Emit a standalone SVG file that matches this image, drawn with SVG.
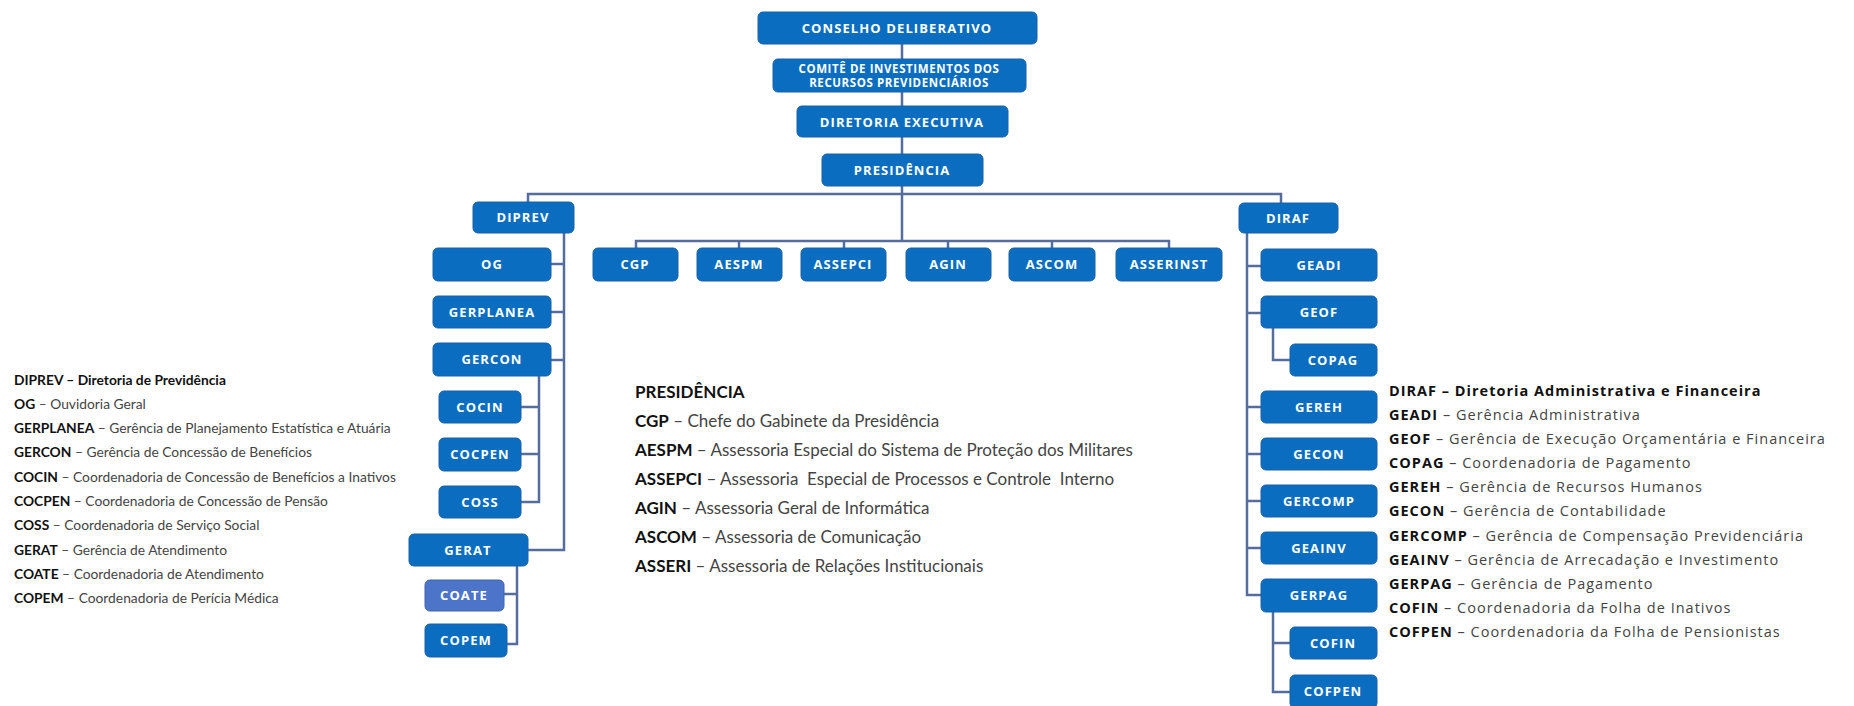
<svg xmlns="http://www.w3.org/2000/svg" width="1854" height="706" viewBox="0 0 1854 706">
<style>
.n{fill:#0B6DC0;stroke:#1A62A8;stroke-width:1}
.n2{fill:#4C74C8;stroke:#3F63AE;stroke-width:1}
.t{font-family:"Open Sans","DejaVu Sans",sans-serif;font-weight:bold;font-size:13px;fill:#ffffff;text-anchor:middle;letter-spacing:1.1px}
.ts{font-size:11.5px;letter-spacing:0.6px}
.c{fill:none;stroke:#566C9C;stroke-width:2.5}
.l{font-family:Lato,"Open Sans",sans-serif;font-size:13.8px;fill:#444444}
.m{font-family:Lato,"Open Sans",sans-serif;font-size:17px;fill:#444444;white-space:pre}
.r{font-family:"Open Sans",Lato,sans-serif;font-size:14.5px;letter-spacing:1px;fill:#444444}
.b{font-weight:bold;fill:#111111}
</style>
<rect width="1854" height="706" fill="#ffffff"/>
<g id="connectors">
<path class="c" d="M902,44V59M902,92V106M902,137V154M902,186V241"/>
<path class="c" d="M528,202V194H1281V203"/>
<path class="c" d="M636,248V241H1169V248M739,241V248M844,241V248M948,241V248M1052,241V248"/>
<path class="c" d="M564,233V550H528M551,264H564M551,312H564M551,360H564"/>
<path class="c" d="M539,376V502H521M521,407H539M521,454H539"/>
<path class="c" d="M517,566V644H507M504,594H517"/>
<path class="c" d="M1247,233V595H1261M1247,266H1261M1247,313H1261M1247,407H1261M1247,454H1261M1247,501H1261M1247,548H1261"/>
<path class="c" d="M1273,328V360H1290"/>
<path class="c" d="M1273,612V692H1290M1273,643H1290"/>
</g>
<g id="conselho"><rect class="n" x="758" y="12" width="279" height="32" rx="5"/><text class="t" x="897" y="33">CONSELHO DELIBERATIVO</text></g>
<g id="comite"><rect class="n" x="773" y="59" width="253" height="33" rx="5"/><text class="t ts" x="899" y="73">COMITÊ DE INVESTIMENTOS DOS</text><text class="t ts" x="899" y="87">RECURSOS PREVIDENCIÁRIOS</text></g>
<g id="diretoria"><rect class="n" x="797" y="106" width="211" height="31" rx="5"/><text class="t" x="902" y="127">DIRETORIA EXECUTIVA</text></g>
<g id="presidencia"><rect class="n" x="822" y="154" width="161" height="32" rx="5"/><text class="t" x="902" y="175">PRESIDÊNCIA</text></g>
<g id="diprev"><rect class="n" x="473" y="202" width="101" height="31" rx="5"/><text class="t" x="523" y="222">DIPREV</text></g>
<g id="diraf"><rect class="n" x="1239" y="203" width="99" height="30" rx="5"/><text class="t" x="1288" y="223">DIRAF</text></g>
<g id="cgp"><rect class="n" x="593" y="248" width="85" height="33" rx="5"/><text class="t" x="635" y="269">CGP</text></g>
<g id="aespm"><rect class="n" x="697" y="248" width="85" height="33" rx="5"/><text class="t" x="739" y="269">AESPM</text></g>
<g id="assepci"><rect class="n" x="801" y="248" width="85" height="33" rx="5"/><text class="t" x="843" y="269">ASSEPCI</text></g>
<g id="agin"><rect class="n" x="906" y="248" width="85" height="33" rx="5"/><text class="t" x="948" y="269">AGIN</text></g>
<g id="ascom"><rect class="n" x="1009" y="248" width="86" height="33" rx="5"/><text class="t" x="1052" y="269">ASCOM</text></g>
<g id="asserinst"><rect class="n" x="1116" y="248" width="106" height="33" rx="5"/><text class="t" x="1169" y="269">ASSERINST</text></g>
<g id="og"><rect class="n" x="433" y="248" width="118" height="33" rx="5"/><text class="t" x="492" y="269">OG</text></g>
<g id="gerplanea"><rect class="n" x="433" y="296" width="118" height="32" rx="5"/><text class="t" x="492" y="317">GERPLANEA</text></g>
<g id="gercon"><rect class="n" x="433" y="343" width="118" height="33" rx="5"/><text class="t" x="492" y="364">GERCON</text></g>
<g id="cocin"><rect class="n" x="439" y="391" width="82" height="32" rx="5"/><text class="t" x="480" y="412">COCIN</text></g>
<g id="cocpen"><rect class="n" x="439" y="438" width="82" height="33" rx="5"/><text class="t" x="480" y="459">COCPEN</text></g>
<g id="coss"><rect class="n" x="439" y="486" width="82" height="32" rx="5"/><text class="t" x="480" y="507">COSS</text></g>
<g id="gerat"><rect class="n" x="409" y="534" width="119" height="32" rx="5"/><text class="t" x="468" y="555">GERAT</text></g>
<g id="coate"><rect class="n2" x="425" y="580" width="79" height="31" rx="5"/><text class="t" x="464" y="600">COATE</text></g>
<g id="copem"><rect class="n" x="425" y="624" width="82" height="33" rx="5"/><text class="t" x="466" y="645">COPEM</text></g>
<g id="geadi"><rect class="n" x="1261" y="249" width="116" height="32" rx="5"/><text class="t" x="1319" y="270">GEADI</text></g>
<g id="geof"><rect class="n" x="1261" y="296" width="116" height="32" rx="5"/><text class="t" x="1319" y="317">GEOF</text></g>
<g id="copag"><rect class="n" x="1290" y="344" width="87" height="32" rx="5"/><text class="t" x="1333" y="365">COPAG</text></g>
<g id="gereh"><rect class="n" x="1261" y="391" width="116" height="32" rx="5"/><text class="t" x="1319" y="412">GEREH</text></g>
<g id="gecon"><rect class="n" x="1261" y="438" width="116" height="32" rx="5"/><text class="t" x="1319" y="459">GECON</text></g>
<g id="gercomp"><rect class="n" x="1261" y="485" width="116" height="32" rx="5"/><text class="t" x="1319" y="506">GERCOMP</text></g>
<g id="geainv"><rect class="n" x="1261" y="532" width="116" height="32" rx="5"/><text class="t" x="1319" y="553">GEAINV</text></g>
<g id="gerpag"><rect class="n" x="1261" y="579" width="116" height="33" rx="5"/><text class="t" x="1319" y="600">GERPAG</text></g>
<g id="cofin"><rect class="n" x="1290" y="627" width="87" height="32" rx="5"/><text class="t" x="1333" y="648">COFIN</text></g>
<g id="cofpen"><rect class="n" x="1290" y="675" width="87" height="33" rx="5"/><text class="t" x="1333" y="696">COFPEN</text></g>
<g id="legend-diprev">
<text class="l b" x="14" y="385">DIPREV – Diretoria de Previdência</text>
<text class="l" x="14" y="409"><tspan class="b">OG</tspan> – Ouvidoria Geral</text>
<text class="l" x="14" y="433"><tspan class="b">GERPLANEA</tspan> – Gerência de Planejamento Estatística e Atuária</text>
<text class="l" x="14" y="457"><tspan class="b">GERCON</tspan> – Gerência de Concessão de Benefícios</text>
<text class="l" x="14" y="482"><tspan class="b">COCIN</tspan> – Coordenadoria de Concessão de Benefícios a Inativos</text>
<text class="l" x="14" y="506"><tspan class="b">COCPEN</tspan> – Coordenadoria de Concessão de Pensão</text>
<text class="l" x="14" y="530"><tspan class="b">COSS</tspan> – Coordenadoria de Serviço Social</text>
<text class="l" x="14" y="555"><tspan class="b">GERAT</tspan> – Gerência de Atendimento</text>
<text class="l" x="14" y="579"><tspan class="b">COATE</tspan> – Coordenadoria de Atendimento</text>
<text class="l" x="14" y="603"><tspan class="b">COPEM</tspan> – Coordenadoria de Perícia Médica</text>
</g>
<g id="legend-presidencia">
<text class="m b" x="635" y="398">PRESIDÊNCIA</text>
<text class="m" x="635" y="427"><tspan class="b">CGP</tspan> – Chefe do Gabinete da Presidência</text>
<text class="m" x="635" y="456"><tspan class="b">AESPM</tspan> – Assessoria Especial do Sistema de Proteção dos Militares</text>
<text class="m" x="635" y="485"><tspan class="b">ASSEPCI</tspan> – Assessoria  Especial de Processos e Controle  Interno</text>
<text class="m" x="635" y="514"><tspan class="b">AGIN</tspan> – Assessoria Geral de Informática</text>
<text class="m" x="635" y="543"><tspan class="b">ASCOM</tspan> – Assessoria de Comunicação</text>
<text class="m" x="635" y="572"><tspan class="b">ASSERI</tspan> – Assessoria de Relações Institucionais</text>
</g>
<g id="legend-diraf">
<text class="r b" x="1389" y="396">DIRAF – Diretoria Administrativa e Financeira</text>
<text class="r" x="1389" y="420"><tspan class="b">GEADI</tspan> – Gerência Administrativa</text>
<text class="r" x="1389" y="444"><tspan class="b">GEOF</tspan> – Gerência de Execução Orçamentária e Financeira</text>
<text class="r" x="1389" y="468"><tspan class="b">COPAG</tspan> – Coordenadoria de Pagamento</text>
<text class="r" x="1389" y="492"><tspan class="b">GEREH</tspan> – Gerência de Recursos Humanos</text>
<text class="r" x="1389" y="516"><tspan class="b">GECON</tspan> – Gerência de Contabilidade</text>
<text class="r" x="1389" y="541"><tspan class="b">GERCOMP</tspan> – Gerência de Compensação Previdenciária</text>
<text class="r" x="1389" y="565"><tspan class="b">GEAINV</tspan> – Gerência de Arrecadação e Investimento</text>
<text class="r" x="1389" y="589"><tspan class="b">GERPAG</tspan> – Gerência de Pagamento</text>
<text class="r" x="1389" y="613"><tspan class="b">COFIN</tspan> – Coordenadoria da Folha de Inativos</text>
<text class="r" x="1389" y="637"><tspan class="b">COFPEN</tspan> – Coordenadoria da Folha de Pensionistas</text>
</g>
</svg>
